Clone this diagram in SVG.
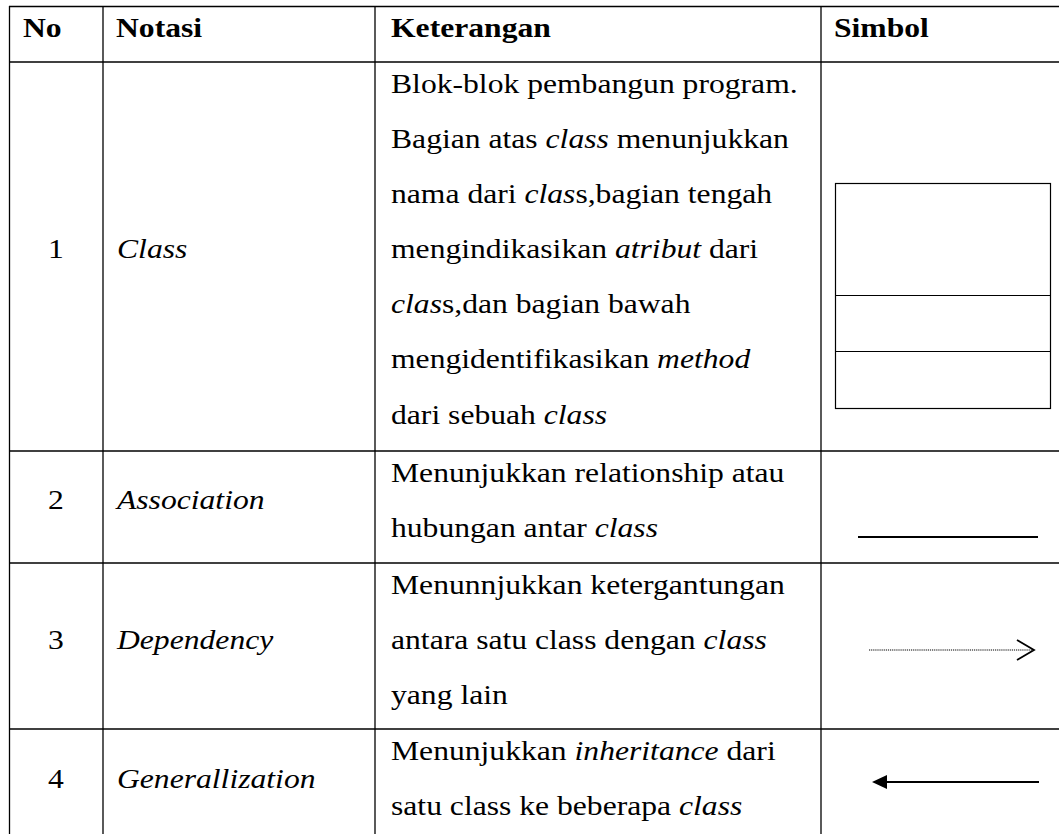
<svg xmlns="http://www.w3.org/2000/svg" width="1059" height="834" viewBox="0 0 1059 834">
<style>
text{font-family:"Liberation Serif","Times New Roman",serif;font-size:28px;fill:#000}
.b{font-weight:bold}
.i{font-style:italic}
.c{text-anchor:middle}
.grid line{stroke:#000;stroke-width:1.3}
.sym{stroke:#000;fill:none}
</style>
<rect width="1059" height="834" fill="#fff"/>
<g id="grid" class="grid">
<line x1="9" y1="6.5" x2="1059" y2="6.5"/>
<line x1="9" y1="62" x2="1059" y2="62"/>
<line x1="9" y1="451" x2="1059" y2="451"/>
<line x1="9" y1="563" x2="1059" y2="563"/>
<line x1="9" y1="729" x2="1059" y2="729"/>
<line x1="9.5" y1="6" x2="9.5" y2="834"/>
<line x1="103" y1="6" x2="103" y2="834"/>
<line x1="375" y1="6" x2="375" y2="834"/>
<line x1="821" y1="6" x2="821" y2="834"/>
</g>
<g id="header">
<text class="b" transform="translate(23,37) scale(1.13,1)">No</text>
<text class="b" transform="translate(116,37) scale(1.13,1)">Notasi</text>
<text class="b" transform="translate(391,37) scale(1.13,1)">Keterangan</text>
<text class="b" transform="translate(834,37) scale(1.13,1)">Simbol</text>
</g>
<g id="row1">
<text class="c" transform="translate(56,258) scale(1.13,1)">1</text>
<text class="i" transform="translate(117,258) scale(1.13,1)">Class</text>
<text transform="translate(391,93) scale(1.13,1)">Blok-blok pembangun program.</text>
<text transform="translate(391,148) scale(1.13,1)">Bagian atas <tspan class="i">class</tspan> menunjukkan</text>
<text transform="translate(391,203) scale(1.13,1)">nama dari <tspan class="i">clas</tspan>s,bagian tengah</text>
<text transform="translate(391,258) scale(1.13,1)">mengindikasikan <tspan class="i">atribut</tspan> dari</text>
<text transform="translate(391,313) scale(1.13,1)"><tspan class="i">clas</tspan>s,dan bagian bawah</text>
<text transform="translate(391,368) scale(1.13,1)">mengidentifikasikan <tspan class="i">method</tspan></text>
<text transform="translate(391,424) scale(1.13,1)">dari sebuah <tspan class="i">class</tspan></text>
<g id="classSymbol" class="sym" stroke-width="1.2">
<rect x="835.5" y="183.5" width="215" height="225"/>
<line x1="835.5" y1="295.5" x2="1050.5" y2="295.5"/>
<line x1="835.5" y1="351.5" x2="1050.5" y2="351.5"/>
</g>
</g>
<g id="row2">
<text class="c" transform="translate(56,509) scale(1.13,1)">2</text>
<text class="i" transform="translate(117,509) scale(1.13,1)">Association</text>
<text transform="translate(391,482) scale(1.13,1)">Menunjukkan relationship atau</text>
<text transform="translate(391,537) scale(1.13,1)">hubungan antar <tspan class="i">class</tspan></text>
</g>
<g id="row3">
<text class="c" transform="translate(56,649) scale(1.13,1)">3</text>
<text class="i" transform="translate(117,649) scale(1.13,1)">Dependency</text>
<text transform="translate(391,594) scale(1.13,1)">Menunnjukkan ketergantungan</text>
<text transform="translate(391,649) scale(1.13,1)">antara satu class dengan <tspan class="i">class</tspan></text>
<text transform="translate(391,704) scale(1.13,1)">yang lain</text>
</g>
<g id="row4">
<text class="c" transform="translate(56,788) scale(1.13,1)">4</text>
<text class="i" transform="translate(117,788) scale(1.13,1)">Generallization</text>
<text transform="translate(391,760) scale(1.13,1)">Menunjukkan <tspan class="i">inheritance</tspan> dari</text>
<text transform="translate(391,815) scale(1.13,1)">satu class ke beberapa <tspan class="i">class</tspan></text>
</g>
<g id="connectors">
<line class="sym" x1="858" y1="537" x2="1038" y2="537" stroke-width="2"/>
<line class="sym" x1="869" y1="650" x2="1032" y2="650" stroke-width="1.2" stroke-dasharray="1.2,0.9"/>
<path class="sym" d="M1017,640 L1034,650 L1017,660" stroke-width="1.8"/>
<line class="sym" x1="884" y1="782" x2="1039" y2="782" stroke-width="2"/>
<path d="M872,782 L887,775 L887,789 Z" fill="#000"/>
</g>
</svg>
